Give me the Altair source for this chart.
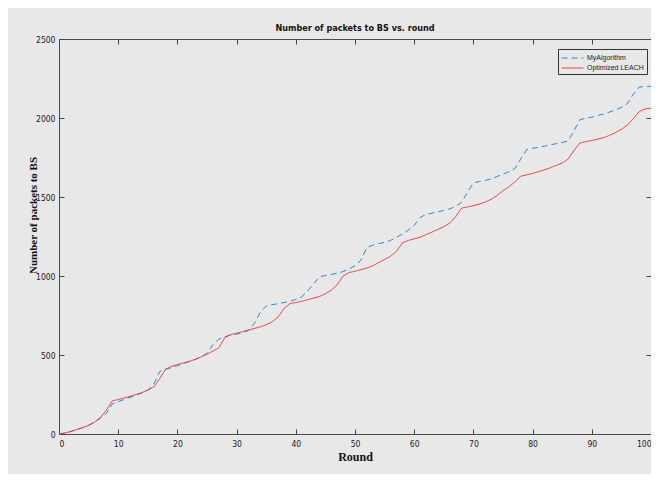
import altair as alt
import pandas as pd

rounds = list(range(101))

my_algorithm = [
    0, 6, 16, 28, 40, 55, 75, 100, 130, 190,
    205, 218, 232, 246, 260, 278, 315, 395, 410, 420,
    432, 445, 458, 472, 488, 510, 565, 600, 615, 625,
    632, 640, 655, 700, 770, 810, 818, 825, 832, 840,
    852, 868, 905, 950, 995, 1003, 1010, 1018, 1028, 1045,
    1065, 1100, 1180, 1195, 1205, 1213, 1225, 1245, 1265, 1290,
    1320, 1370, 1390, 1398, 1405, 1415, 1425, 1440, 1465, 1530,
    1590, 1598, 1605, 1615, 1630, 1645, 1660, 1680, 1740, 1800,
    1808, 1815, 1822, 1830, 1838, 1845, 1855, 1920, 1990, 1998,
    2005, 2015, 2025, 2038, 2050, 2068, 2090, 2150, 2195, 2200,
    2200,
]

optimized_leach = [
    0, 6, 16, 28, 40, 55, 75, 105, 150, 210,
    218, 228, 238, 250, 262, 278, 298, 350, 410, 428,
    440, 450, 460, 472, 488, 505, 525, 545, 610, 630,
    638, 648, 658, 668, 678, 692, 710, 740, 795, 825,
    832, 840, 850, 860, 870, 888, 910, 945, 1000, 1022,
    1030, 1040, 1050, 1065, 1085, 1105, 1125, 1155, 1210, 1225,
    1235, 1245, 1262, 1278, 1295, 1312, 1335, 1375, 1430, 1437,
    1445, 1455, 1468, 1485, 1510, 1540, 1565, 1595, 1632, 1640,
    1650, 1660, 1672, 1685, 1700, 1715, 1740, 1795, 1842, 1850,
    1858, 1866, 1876, 1890, 1908, 1928, 1955, 1995, 2040, 2058,
    2062,
]

series_names = ["MyAlgorithm", "Optimized LEACH"]
series_colors = ["#2f88c4", "#e2383b"]
x_ticks = [0, 10, 20, 30, 40, 50, 60, 70, 80, 90, 100]
y_ticks = [0, 500, 1000, 1500, 2000, 2500]

df = pd.DataFrame({
    "round": rounds + rounds,
    "value": my_algorithm + optimized_leach,
    "series": [series_names[0]] * len(rounds) + [series_names[1]] * len(rounds),
})

BG = "#e8e8e8"
NARROW = "'Liberation Sans Narrow', 'Arial Narrow', 'DejaVu Sans Condensed', 'Liberation Sans', sans-serif"
SANS = "'Liberation Sans', Arial, sans-serif"
SERIF = "'Liberation Serif', 'Times New Roman', serif"

xscale = alt.Scale(domain=[0, 100], nice=False, zero=False)
yscale = alt.Scale(domain=[0, 2500], nice=False)

legend = alt.Legend(
    title=None, orient="none", legendX=499, legendY=10,
    symbolType="M-1,0H3", symbolSize=121, symbolStrokeWidth=1,
    labelFont=SANS, labelFontSize=7, labelColor="#222",
    padding=3, strokeColor="#333", fillColor=BG,
    rowPadding=1, labelOffset=14, labelLimit=200,
)

lines = alt.Chart(df).mark_line(strokeWidth=1).encode(
    x=alt.X("round:Q", scale=xscale, axis=alt.Axis(
        orient="bottom", values=x_ticks, ticks=False, domain=False, grid=False,
        format="d", labelFlush=True, title="Round", labelFont=NARROW, labelFontSize=8.5,
        labelPadding=5, labelColor="#222", titleFont=SERIF, titleFontSize=12,
        titleFontWeight="bold", titlePadding=4, titleColor="#111")),
    y=alt.Y("value:Q", scale=yscale, axis=alt.Axis(
        orient="left", values=y_ticks, ticks=False, domain=False, grid=False,
        format="d", title="Number of packets to BS", labelFont=NARROW, labelFontSize=8.5,
        labelPadding=4, labelColor="#222", titleFont=SERIF, titleFontSize=11,
        titleFontWeight="bold", titleColor="#111", titleX=-21, titleY=176)),
    color=alt.Color("series:N", scale=alt.Scale(domain=series_names, range=series_colors), legend=legend),
    strokeDash=alt.StrokeDash("series:N", scale=alt.Scale(domain=series_names, range=[[6, 4], [1, 0]]), legend=legend),
)


def tick_layer(xo, yo):
    return alt.Chart(df).mark_point(opacity=0).encode(
        x=alt.X("round:Q", scale=xscale, axis=alt.Axis(
            orient=xo, values=x_ticks, labels=False, domain=False, grid=False,
            ticks=True, tickSize=5, tickColor="#444", offset=-5, title=None)),
        y=alt.Y("value:Q", scale=yscale, axis=alt.Axis(
            orient=yo, values=y_ticks, labels=False, domain=False, grid=False,
            ticks=True, tickSize=5, tickColor="#444", offset=-5, title=None)),
    )


chart = alt.layer(lines, tick_layer("bottom", "left"), tick_layer("top", "right")).resolve_axis(
    x="independent", y="independent"
).properties(
    width=592, height=395,
    background=BG,
    padding={"left": 51, "top": 31, "right": 0, "bottom": 40},
    autosize=alt.AutoSizeParams(type="none"),
    title=alt.TitleParams(
        "Number of packets to BS vs. round", fontSize=9, fontWeight="bold",
        font=NARROW, anchor="middle", offset=2, color="#111"),
).configure_view(stroke="#4a4a4a", strokeWidth=1, fill=BG)

chart.save("out.html", embed_options={"renderer": "svg", "actions": False})
